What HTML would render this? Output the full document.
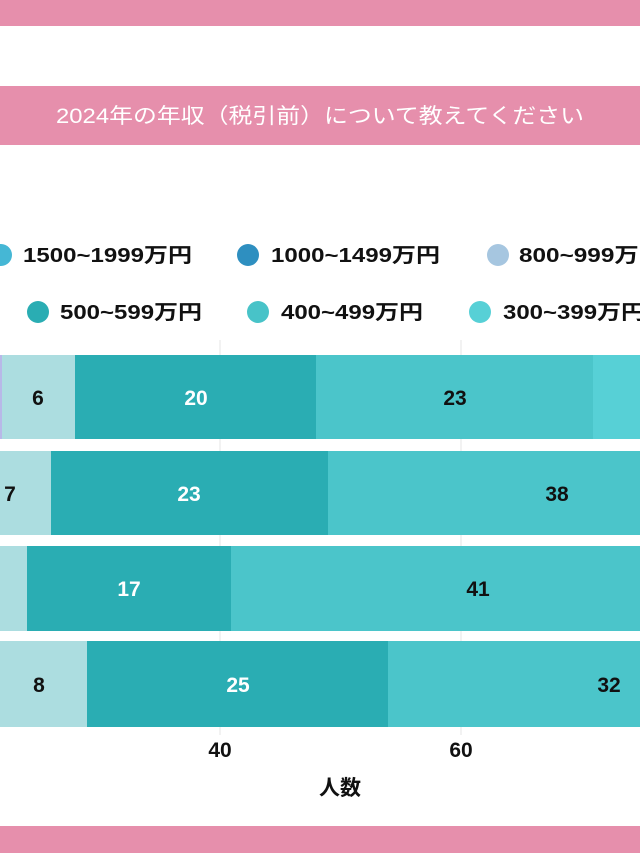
<!DOCTYPE html>
<html><head><meta charset="utf-8"><style>
html,body{margin:0;padding:0;background:#fff;}
svg{display:block;font-family:"Liberation Sans","Noto Sans CJK JP",sans-serif;}
</style></head><body>
<svg width="640" height="853" viewBox="0 0 640 853">
<rect x="0" y="0" width="640" height="26" fill="#e68fac"/>
<rect x="0" y="86" width="640" height="59" fill="#e68fac"/>
<text x="320" y="123" fill="#fff" font-size="21" text-anchor="middle" textLength="528" lengthAdjust="spacingAndGlyphs">2024年の年収（税引前）について教えてください</text>
<g font-size="20" font-weight="bold" fill="#111">
<circle cx="1" cy="255" r="11" fill="#45b7d5"/><text x="23" y="262" textLength="169" lengthAdjust="spacingAndGlyphs">1500~1999万円</text>
<circle cx="248" cy="255" r="11" fill="#2e8fc0"/><text x="271" y="262" textLength="169" lengthAdjust="spacingAndGlyphs">1000~1499万円</text>
<circle cx="498" cy="255" r="11" fill="#a6c6e0"/><text x="519" y="262" textLength="144" lengthAdjust="spacingAndGlyphs">800~999万円</text>
<circle cx="38" cy="312" r="11" fill="#2aadb3"/><text x="60" y="319" textLength="142" lengthAdjust="spacingAndGlyphs">500~599万円</text>
<circle cx="258" cy="312" r="11" fill="#48c3c8"/><text x="281" y="319" textLength="142" lengthAdjust="spacingAndGlyphs">400~499万円</text>
<circle cx="480" cy="312" r="11" fill="#57d0d6"/><text x="503" y="319" textLength="142" lengthAdjust="spacingAndGlyphs">300~399万円</text>
</g>
<line x1="220" y1="340" x2="220" y2="735" stroke="#e5e5e5"/>
<line x1="461" y1="340" x2="461" y2="735" stroke="#e5e5e5"/>
<rect x="0" y="355" width="2" height="84" fill="#b8b8e8"/>
<rect x="2" y="355" width="73" height="84" fill="#acdde0"/>
<rect x="75" y="355" width="241" height="84" fill="#2aadb3"/>
<rect x="316" y="355" width="277" height="84" fill="#4bc5ca"/>
<rect x="593" y="355" width="47" height="84" fill="#57d0d6"/>
<rect x="0" y="451" width="51" height="84" fill="#acdde0"/>
<rect x="51" y="451" width="277" height="84" fill="#2aadb3"/>
<rect x="328" y="451" width="312" height="84" fill="#4bc5ca"/>
<rect x="0" y="546" width="27" height="85" fill="#acdde0"/>
<rect x="27" y="546" width="204" height="85" fill="#2aadb3"/>
<rect x="231" y="546" width="409" height="85" fill="#4bc5ca"/>
<rect x="0" y="641" width="87" height="86" fill="#acdde0"/>
<rect x="87" y="641" width="301" height="86" fill="#2aadb3"/>
<rect x="388" y="641" width="252" height="86" fill="#4bc5ca"/>
<g font-size="21" font-weight="bold" text-anchor="middle">
<text x="38" y="405" fill="#111">6</text>
<text x="196" y="405" fill="#fff">20</text>
<text x="455" y="405" fill="#111">23</text>
<text x="10" y="501" fill="#111">7</text>
<text x="189" y="501" fill="#fff">23</text>
<text x="557" y="501" fill="#111">38</text>
<text x="129" y="596" fill="#fff">17</text>
<text x="478" y="596" fill="#111">41</text>
<text x="39" y="692" fill="#111">8</text>
<text x="238" y="692" fill="#fff">25</text>
<text x="609" y="692" fill="#111">32</text>
<text x="220" y="757" fill="#111">40</text>
<text x="461" y="757" fill="#111">60</text>
<text x="340" y="795" fill="#111">人数</text>
</g>
<rect x="0" y="826" width="640" height="27" fill="#e68fac"/>
</svg>
</body></html>
